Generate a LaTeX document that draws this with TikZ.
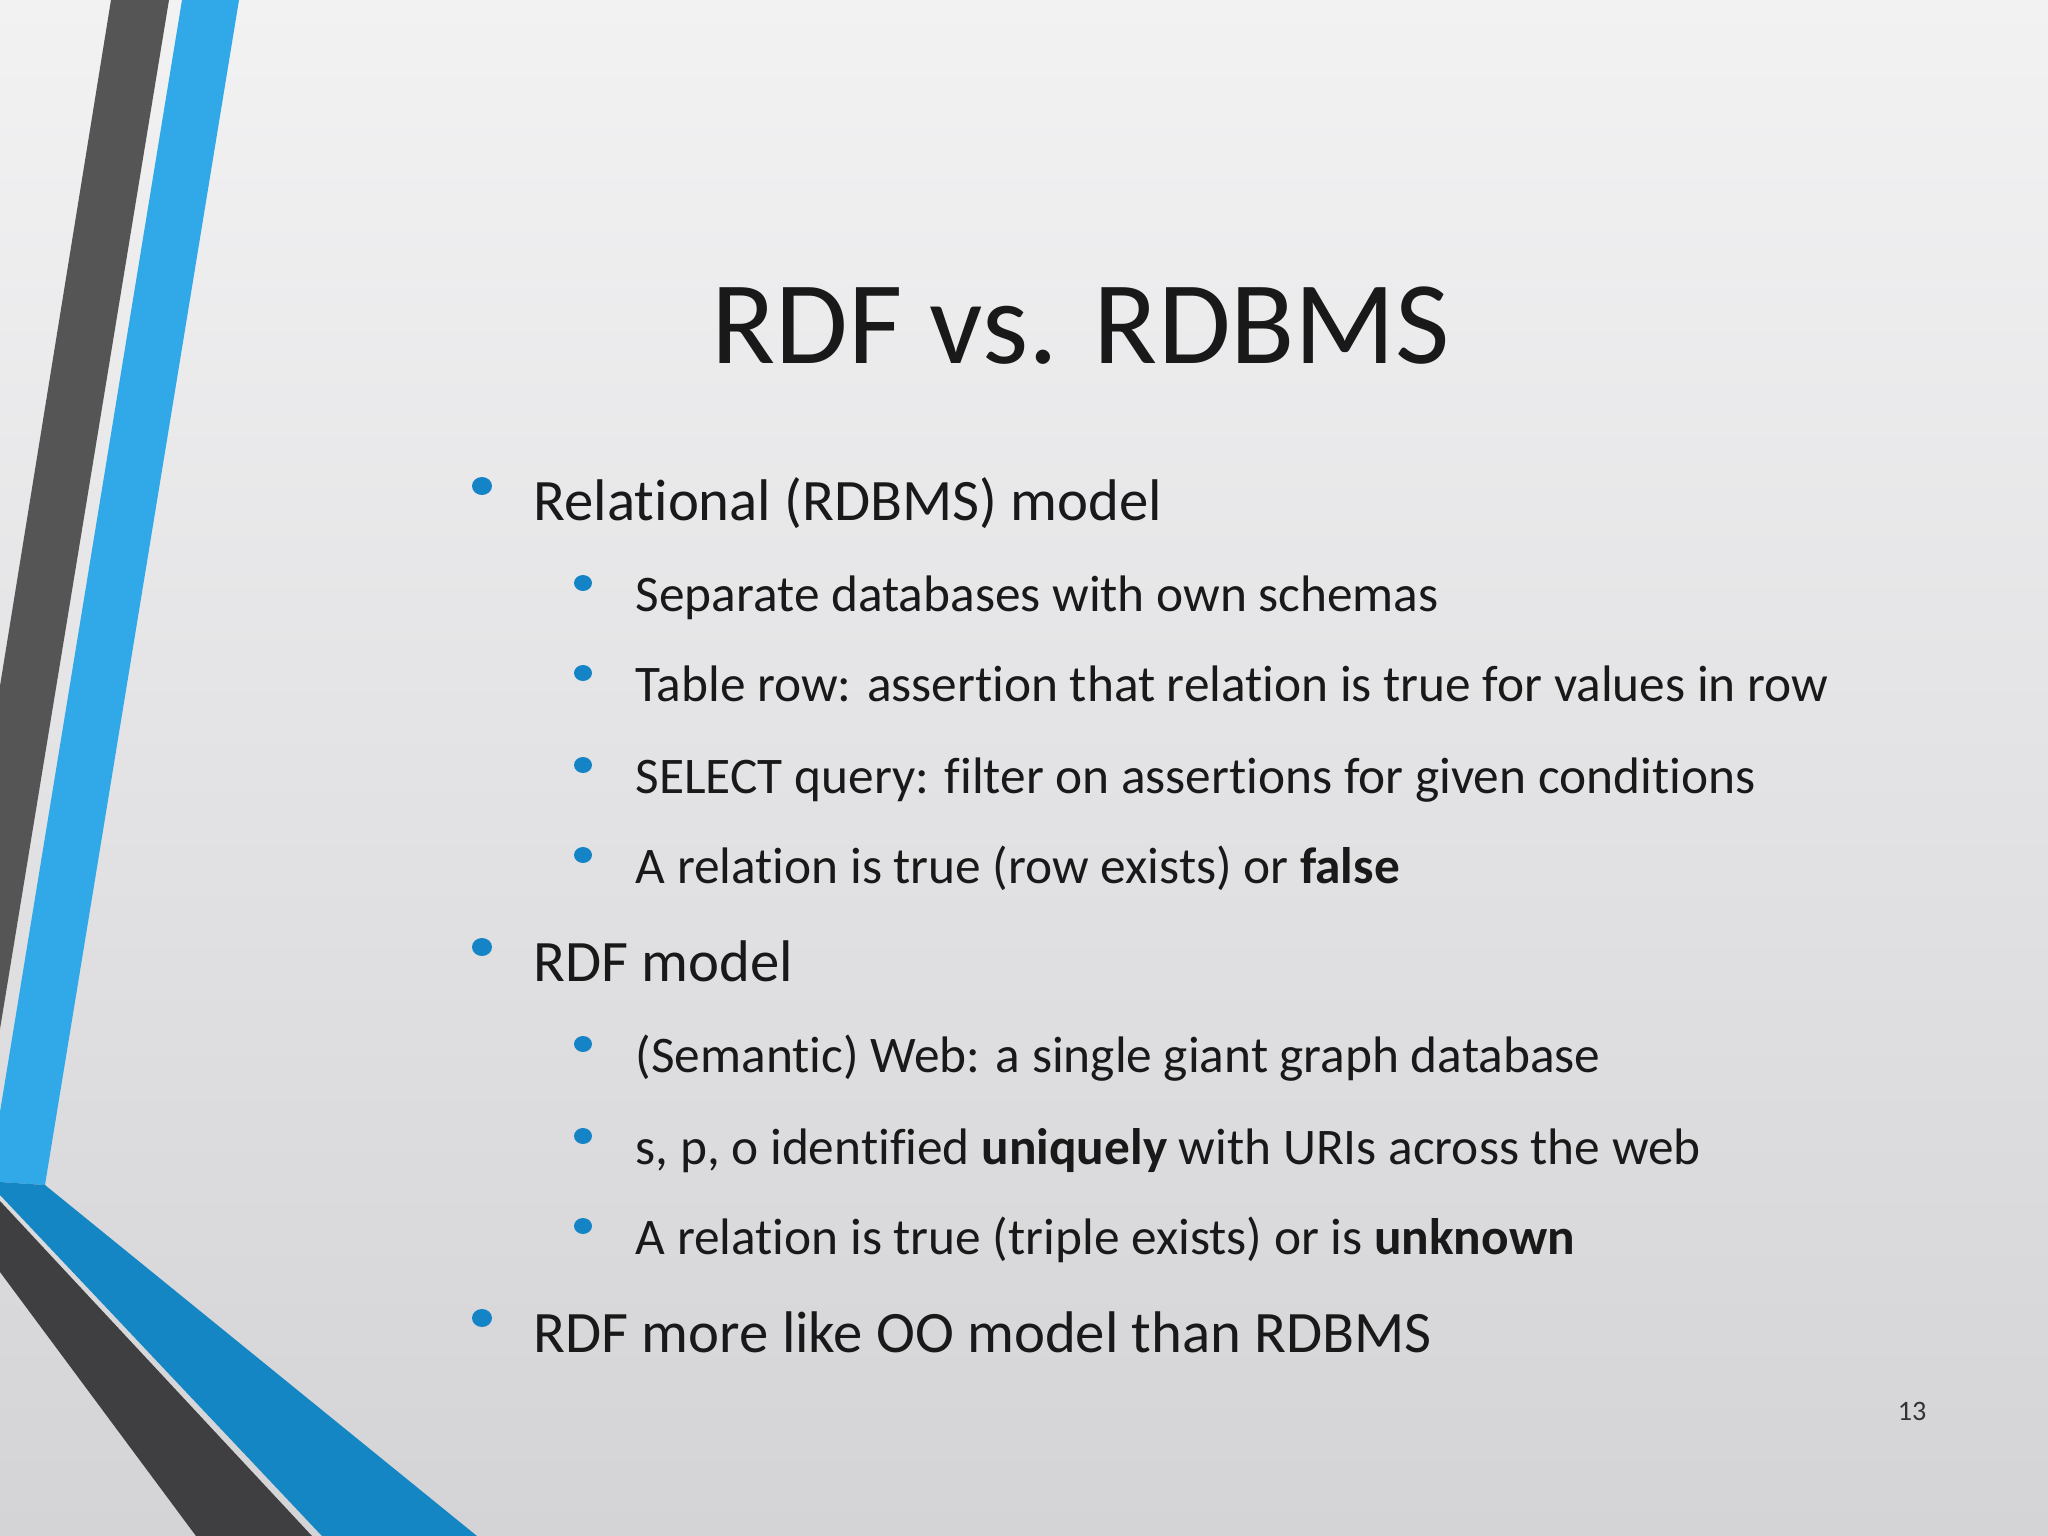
\documentclass[tikz,border=0pt]{standalone}
\usepackage{fontspec}
\setmainfont{Carlito}[Ligatures={NoCommon}]
\definecolor{bgtop}{HTML}{F2F2F3}
\definecolor{bgbot}{HTML}{D4D4D7}
\definecolor{darkg}{HTML}{555555}
\definecolor{darkg2}{HTML}{3F3E41}
\definecolor{lblue}{HTML}{31A9E8}
\definecolor{mblue}{HTML}{1486C4}
\definecolor{bul}{HTML}{1484C6}
\begin{document}
\begin{tikzpicture}[x=0.01cm,y=-0.01cm,
  lone/.style={anchor=base west,inner sep=0pt,font=\fontsize{16.7}{20}\selectfont,text=black!90},
  ltwo/.style={anchor=base west,inner sep=0pt,font=\fontsize{14.6}{18}\selectfont,text=black!90}]
\useasboundingbox (0,0) rectangle (2048,1536);
\shade[top color=bgtop,bottom color=bgbot] (0,0) rectangle (2048,1536);
% stripes
\fill[darkg] (111,0) -- (169,0) -- (0,1029) -- (0,686) -- cycle;
\fill[lblue] (182,0) -- (239,0) -- (45,1185) -- (0,1182) -- (0,1112) -- cycle;
\fill[mblue] (0,1182) -- (45,1185) -- (477,1536) -- (322,1536) -- (0,1195) -- cycle;
\fill[darkg2] (0,1201) -- (312,1536) -- (196,1536) -- (0,1272) -- cycle;
% title
\node[anchor=base,inner sep=0pt,font=\fontsize{33.6}{38}\selectfont,text=black!90] (title) at (1081,363) {RDF vs. RDBMS};
% bullets
\foreach \y in {520,981,1352} \fill[bul] (482,\y-34) ellipse (10 and 9);
\foreach \y in {611,701,793,883,1072,1164,1254} \fill[bul] (583,\y-28) ellipse (9 and 8);
\node[lone] (a) at (533,520) {Relational (RDBMS) model};
\node[ltwo] (a1) at (635,611) {Separate databases with own schemas};
\node[ltwo] (a2) at (635,701) {Table row: assertion that relation is true for values in row};
\node[ltwo] (a3) at (635,793) {SELECT query: filter on assertions for given conditions};
\node[ltwo] (a4) at (635,883) {A relation is true (row exists) or \textbf{false}};
\node[lone] (b) at (533,981) {RDF model};
\node[ltwo] (b1) at (635,1072) {(Semantic) Web: a single giant graph database};
\node[ltwo] (b2) at (635,1164) {s, p, o identified \textbf{uniquely} with URIs across the web};
\node[ltwo] (b3) at (635,1254) {A relation is true (triple exists) or is \textbf{unknown}};
\node[lone] (c) at (533,1352) {RDF more like OO model than RDBMS};
\node[anchor=base,inner sep=0pt,font=\fontsize{8}{9}\selectfont,text=black!80] (pg) at (1912,1420) {13};
\end{tikzpicture}
\end{document}
